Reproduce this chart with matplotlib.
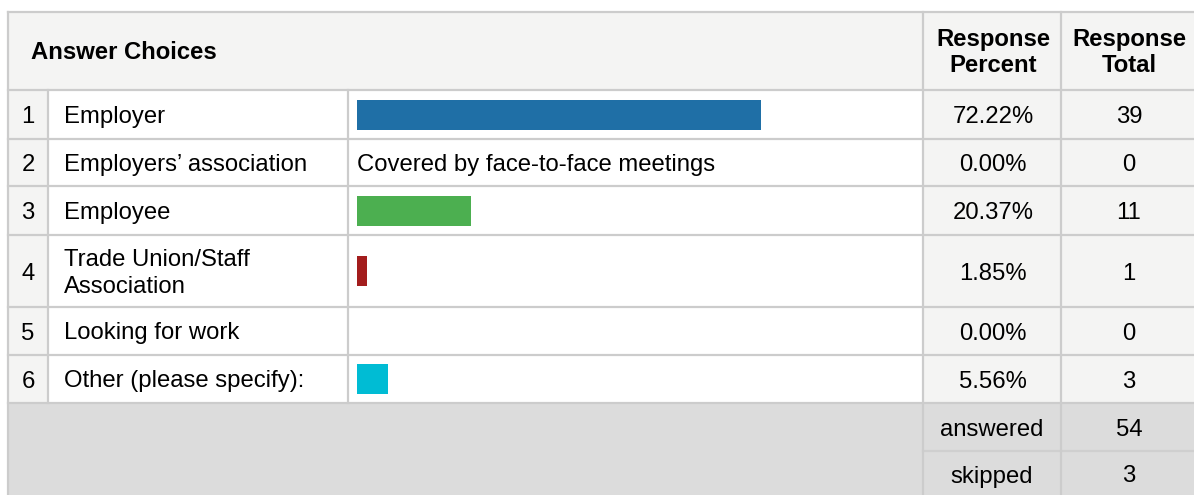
import matplotlib
matplotlib.use("Agg")
import matplotlib.pyplot as plt
from matplotlib.patches import Rectangle

plt.rcParams['font.family'] = ['Liberation Sans', 'DejaVu Sans']

# ---- data ----
row_numbers = ["1", "2", "3", "4", "5", "6"]
choices = ["Employer", "Employers\u2019 association", "Employee",
           "Trade Union/Staff\nAssociation", "Looking for work",
           "Other (please specify):"]
percents = [72.22, 0.00, 20.37, 1.85, 0.00, 5.56]
totals = [39, 0, 11, 1, 0, 3]
bar_colors = ["#1f6fa6", "#ffffff", "#4caf50", "#a31d1d", "#ffffff", "#00bcd4"]
bar_notes = ["", "Covered by face-to-face meetings", "", "", "", ""]
answered = 54
skipped = 3
header_choices = "Answer Choices"
header_pct = "Response\nPercent"
header_tot = "Response\nTotal"

# ---- layout (pixels) ----
W, H = 1194, 495
fig = plt.figure(figsize=(W / 100, H / 100), dpi=100)
ax = fig.add_axes([0, 0, 1, 1])
ax.set_xlim(0, W)
ax.set_ylim(H, 0)
ax.axis("off")

x_left, x_num, x_lab, x_bar, x_pct, x_right = 8, 48, 348, 923, 1061, 1194
row_edges = [12, 90, 139, 186, 235, 307, 355, 403, 451, 495]
border = "#cccccc"
light = "#f4f4f3"
footer = "#dcdcdc"
fs = 17.2
dy = 2.5  # small downward nudge of text inside cells

def rect(x0, y0, x1, y1, fc):
    ax.add_patch(Rectangle((x0, y0), x1 - x0, y1 - y0, facecolor=fc,
                           edgecolor="none", zorder=0))

# header
rect(x_left, row_edges[0], x_right, row_edges[1], light)
# data rows
for i in range(6):
    y0, y1 = row_edges[i + 1], row_edges[i + 2]
    rect(x_left, y0, x_num, y1, light)
    rect(x_num, y0, x_bar, y1, "#ffffff")
    rect(x_bar, y0, x_right, y1, light)
# footer
rect(x_left, row_edges[7], x_right, row_edges[9], footer)

# borders
lw = 1.6
for y in row_edges[:8]:
    ax.plot([x_left, x_right], [y, y], color=border, lw=lw, zorder=1)
ax.plot([x_bar, x_right], [row_edges[8], row_edges[8]], color="#cfcfcf", lw=lw, zorder=1)
ax.plot([x_left, x_left], [row_edges[0], H], color=border, lw=lw, zorder=1)
ax.plot([x_bar, x_bar], [row_edges[0], H], color=border, lw=lw, zorder=1)
ax.plot([x_pct, x_pct], [row_edges[0], H], color=border, lw=lw, zorder=1)
for x in (x_num, x_lab):
    ax.plot([x, x], [row_edges[1], row_edges[7]], color=border, lw=lw, zorder=1)

# header text
hy = (row_edges[0] + row_edges[1]) / 2 + 1.5
ax.text(31, hy, header_choices, fontsize=fs, fontweight="bold", ha="left", va="center")
ax.text(993, hy, header_pct, fontsize=fs, fontweight="bold", ha="center",
        va="center", linespacing=1.22)
ax.text(1129, hy, header_tot, fontsize=fs, fontweight="bold", ha="center",
        va="center", linespacing=1.22)

# rows text
centers = []
for i in range(6):
    yc = (row_edges[i + 1] + row_edges[i + 2]) / 2
    centers.append(yc)
    ax.text(28, yc + dy, row_numbers[i], fontsize=fs, ha="center", va="center")
    ax.text(64, yc + dy, choices[i], fontsize=fs, ha="left", va="center", linespacing=1.3)
    ax.text(993, yc + dy, f"{percents[i]:.2f}%", fontsize=fs, ha="center", va="center")
    ax.text(1129, yc + dy, str(totals[i]), fontsize=fs, ha="center", va="center")
    if bar_notes[i]:
        ax.text(357, yc + dy, bar_notes[i], fontsize=fs, ha="left", va="center")

# footer text
yc = (row_edges[7] + row_edges[8]) / 2 + dy + 1
ax.text(992, yc, "answered", fontsize=fs, ha="center", va="center")
ax.text(1129, yc, str(answered), fontsize=fs, ha="center", va="center")
yc = (row_edges[8] + row_edges[9]) / 2 + dy + 1
ax.text(992, yc, "skipped", fontsize=fs, ha="center", va="center")
ax.text(1129, yc, str(skipped), fontsize=fs, ha="center", va="center")

# bars in their own axes (x in percent, y shared pixel rows)
bx0, bx1 = 357, 916
bax = fig.add_axes([bx0 / W, 0, (bx1 - bx0) / W, 1])
bax.set_xlim(0, 100)
bax.set_ylim(H, 0)
bax.axis("off")
bax.patch.set_alpha(0)
bax.barh(centers, percents, height=30, color=bar_colors, edgecolor="none")

fig.savefig("out.png", dpi=100)
